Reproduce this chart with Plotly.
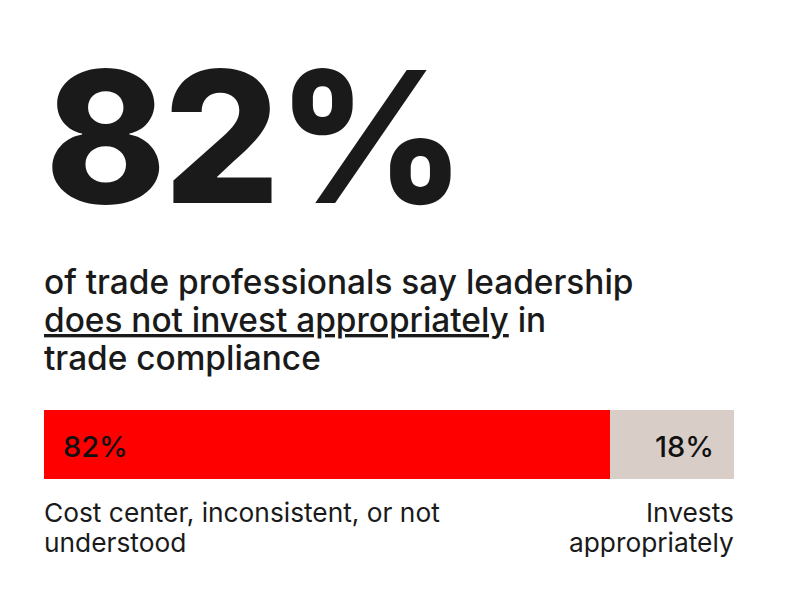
import plotly.graph_objects as go

# data
headline = "82%"
subtitle_lines = ["of trade professionals say leadership",
                  "<u>does not invest appropriately</u> in",
                  "trade compliance"]
categories = ["Cost center, inconsistent, or not<br>understood", "Invests<br>appropriately"]
values = [82, 18]
colors = ["#ff0000", "#d8cec7"]

W, H = 800, 600
ink = "#1a1a1a"
font = "Inter"
OFF = 8  # page margin around the plot div


def px_x(p):
    return (p - OFF) / W


def px_y(p):
    return 1 - (p - OFF) / H


fig = go.Figure()

# stacked bar, one segment per category
for cat, val, col in zip(categories, values, colors):
    fig.add_trace(go.Bar(
        x=[val], y=["all"], orientation="h", name=cat,
        marker=dict(color=col, line=dict(width=0)),
        hoverinfo="skip",
    ))

# percentage labels inside the bar
fig.add_annotation(x=0, y="all", xref="x", yref="y", text=f"{values[0]}%",
                   xanchor="left", xshift=17, yshift=-2, showarrow=False,
                   font=dict(family=font, size=29, color="#111111", weight=500))
fig.add_annotation(x=sum(values), y="all", xref="x", yref="y", text=f"{values[1]}%",
                   xanchor="right", xshift=-18, yshift=-2, showarrow=False,
                   font=dict(family=font, size=29, color="#111111", weight=500))

# category labels under the bar, one annotation per line
for i, line in enumerate(categories[0].split("<br>")):
    fig.add_annotation(x=px_x(42), y=px_y(512 + 30 * i), xref="paper", yref="paper",
                       text=line, xanchor="left", yanchor="middle",
                       showarrow=False, font=dict(family=font, size=26.3, color=ink))
for i, line in enumerate(categories[1].split("<br>")):
    fig.add_annotation(x=px_x(736), y=px_y(512 + 30 * i), xref="paper", yref="paper",
                       text=line, xanchor="right", yanchor="middle",
                       showarrow=False, font=dict(family=font, size=26.3, color=ink))

# big number
fig.add_annotation(x=px_x(43), y=px_y(137), xref="paper", yref="paper",
                   text=f'<span style="letter-spacing:-3px">{headline}</span>',
                   xanchor="left", yanchor="middle", showarrow=False,
                   font=dict(family=font, size=183, color=ink, weight=800))

# subtitle
for i, line in enumerate(subtitle_lines):
    fig.add_annotation(x=px_x(42), y=px_y(282 + 38 * i), xref="paper", yref="paper",
                       text=line, xanchor="left", yanchor="middle",
                       showarrow=False, font=dict(family=font, size=33.4, color=ink, weight=500))

fig.update_layout(
    width=W, height=H,
    barmode="stack", bargap=0,
    showlegend=False,
    margin=dict(l=0, r=0, t=0, b=0),
    paper_bgcolor="white", plot_bgcolor="white",
    xaxis=dict(domain=[px_x(44), px_x(734)], range=[0, 100], visible=False),
    yaxis=dict(domain=[px_y(479), px_y(410)], visible=False),
)

fig.write_html("out.html")
